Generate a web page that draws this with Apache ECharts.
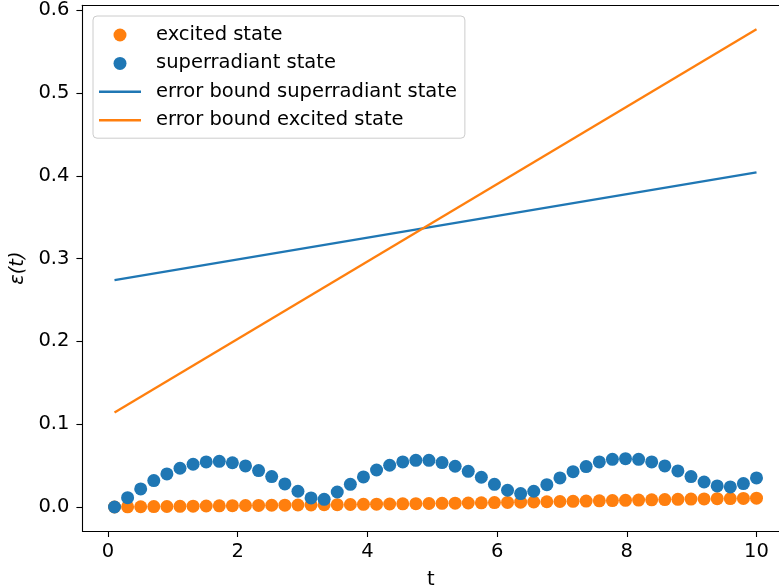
<!DOCTYPE html>
<html>
<head>
<meta charset="utf-8">
<script src="https://cdn.jsdelivr.net/npm/echarts@6/dist/echarts.min.js"></script>
<style>
html,body{margin:0;padding:0;background:#fff;}
#chart{width:779px;height:588px;}
</style>
</head>
<body>
<div id="chart"></div>
<script>
// sample times
const tValues = [0.1, 0.302, 0.504, 0.706, 0.908, 1.110, 1.312, 1.514, 1.716, 1.918,
  2.120, 2.322, 2.524, 2.727, 2.929, 3.131, 3.333, 3.535, 3.737, 3.939,
  4.141, 4.343, 4.545, 4.747, 4.949, 5.151, 5.353, 5.555, 5.757, 5.959,
  6.161, 6.363, 6.565, 6.767, 6.969, 7.171, 7.373, 7.576, 7.778, 7.980,
  8.182, 8.384, 8.586, 8.788, 8.990, 9.192, 9.394, 9.596, 9.798, 10.0];

const excitedState = [0.0000, 0.0002, 0.0003, 0.0005, 0.0006, 0.0008, 0.0010, 0.0012, 0.0014, 0.0016,
  0.0018, 0.0019, 0.0021, 0.0022, 0.0024, 0.0025, 0.0027, 0.0028, 0.0030, 0.0032,
  0.0034, 0.0036, 0.0038, 0.0040, 0.0042, 0.0044, 0.0046, 0.0048, 0.0050, 0.0053,
  0.0055, 0.0058, 0.0060, 0.0063, 0.0066, 0.0068, 0.0071, 0.0074, 0.0077, 0.0080,
  0.0083, 0.0086, 0.0089, 0.0092, 0.0095, 0.0097, 0.0100, 0.0102, 0.0104, 0.0106];

const superradiantState = [0.0000, 0.0113, 0.0218, 0.0319, 0.0399, 0.0468, 0.0516, 0.0544, 0.0552, 0.0534,
  0.0496, 0.0440, 0.0367, 0.0278, 0.0190, 0.0109, 0.0093, 0.0181, 0.0274, 0.0363,
  0.0447, 0.0504, 0.0544, 0.0564, 0.0564, 0.0536, 0.0492, 0.0431, 0.0359, 0.0274,
  0.0202, 0.0162, 0.0190, 0.0270, 0.0351, 0.0427, 0.0488, 0.0544, 0.0576, 0.0584,
  0.0576, 0.0544, 0.0496, 0.0435, 0.0367, 0.0302, 0.0254, 0.0242, 0.0283, 0.0351];

// error bounds (straight lines), endpoints
const boundT = [0.1, 10.0];
const boundSuperradiant = [0.274, 0.404];
const boundExcited = [0.114, 0.577];

const xTicks = [0, 2, 4, 6, 8, 10];
const yTicks = [0, 0.1, 0.2, 0.3, 0.4, 0.5, 0.6];

const seriesNames = ['excited state', 'superradiant state', 'error bound superradiant state', 'error bound excited state'];
const BLUE = '#1f77b4', ORANGE = '#ff7f0e';
const FONT = 'DejaVu Sans';
const FS = 19.5;
const X_MIN = -0.395, X_MAX = 10.347;
const Y_MIN = -0.029, Y_MAX = 0.606;
const LINE_ICON = 'path://M0,0 L42,0 L42,2.4 L0,2.4 Z';

const zip = (xs, ys) => xs.map((x, i) => [x, ys[i]]);

const chart = echarts.init(document.getElementById('chart'), null, {renderer: 'canvas'});
chart.setOption({
  animation: false,
  backgroundColor: '#fff',
  textStyle: {fontFamily: FONT},
  grid: {left: 82.4, right: 0, top: 5.2, bottom: 57, show: false, containLabel: false, outerBoundsMode: 'none'},
  legend: {
    orient: 'vertical', left: 93, top: 16,
    padding: [9, 8, 8, 6],
    itemWidth: 42, itemHeight: 13, itemGap: 8.4,
    backgroundColor: 'rgba(255,255,255,0.8)',
    borderColor: '#cccccc', borderWidth: 1, borderRadius: 4,
    textStyle: {fontFamily: FONT, fontSize: FS, color: '#000', lineHeight: 20, padding: [0, 0, 0, 10]},
    data: [
      {name: seriesNames[0], icon: 'circle'},
      {name: seriesNames[1], icon: 'circle'},
      {name: seriesNames[2], icon: LINE_ICON},
      {name: seriesNames[3], icon: LINE_ICON}
    ]
  },
  xAxis: [{
    type: 'value', min: X_MIN, max: X_MAX, position: 'bottom',
    name: 't', nameLocation: 'middle', nameGap: 39,
    nameTextStyle: {fontFamily: FONT, fontSize: FS, color: '#000'},
    splitLine: {show: false},
    axisLine: {show: true, onZero: false, lineStyle: {color: '#000', width: 1.1}},
    axisTick: {show: true, inside: false, length: 6, customValues: xTicks, lineStyle: {color: '#000', width: 1.1}},
    axisLabel: {customValues: xTicks, margin: 11, fontFamily: FONT, fontSize: FS, color: '#000', formatter: v => String(v)}
  }, {
    type: 'value', min: X_MIN, max: X_MAX, position: 'top',
    splitLine: {show: false},
    axisLine: {show: true, onZero: false, lineStyle: {color: '#000', width: 1.1}},
    axisTick: {show: false}, axisLabel: {show: false}
  }],
  yAxis: {
    type: 'value', min: Y_MIN, max: Y_MAX,
    name: 'ε(t)', nameLocation: 'middle', nameGap: 44, nameRotate: 90,
    nameTextStyle: {fontFamily: FONT, fontSize: FS, color: '#000', fontStyle: 'italic'},
    splitLine: {show: false},
    axisLine: {show: true, onZero: false, lineStyle: {color: '#000', width: 1.1}},
    axisTick: {show: true, inside: false, length: 6, customValues: yTicks, lineStyle: {color: '#000', width: 1.1}},
    axisLabel: {customValues: yTicks, margin: 13, fontFamily: FONT, fontSize: FS, color: '#000', formatter: v => v.toFixed(1)}
  },
  series: [
    {name: seriesNames[0], type: 'scatter', data: zip(tValues, excitedState), symbol: 'circle', symbolSize: 13, itemStyle: {color: ORANGE, opacity: 1}},
    {name: seriesNames[1], type: 'scatter', data: zip(tValues, superradiantState), symbol: 'circle', symbolSize: 13, itemStyle: {color: BLUE, opacity: 1}},
    {name: seriesNames[2], type: 'line', data: zip(boundT, boundSuperradiant), symbol: 'none', showSymbol: false, lineStyle: {color: BLUE, width: 2.3}, itemStyle: {color: BLUE}},
    {name: seriesNames[3], type: 'line', data: zip(boundT, boundExcited), symbol: 'none', showSymbol: false, lineStyle: {color: ORANGE, width: 2.3}, itemStyle: {color: ORANGE}}
  ]
});
</script>
</body>
</html>
